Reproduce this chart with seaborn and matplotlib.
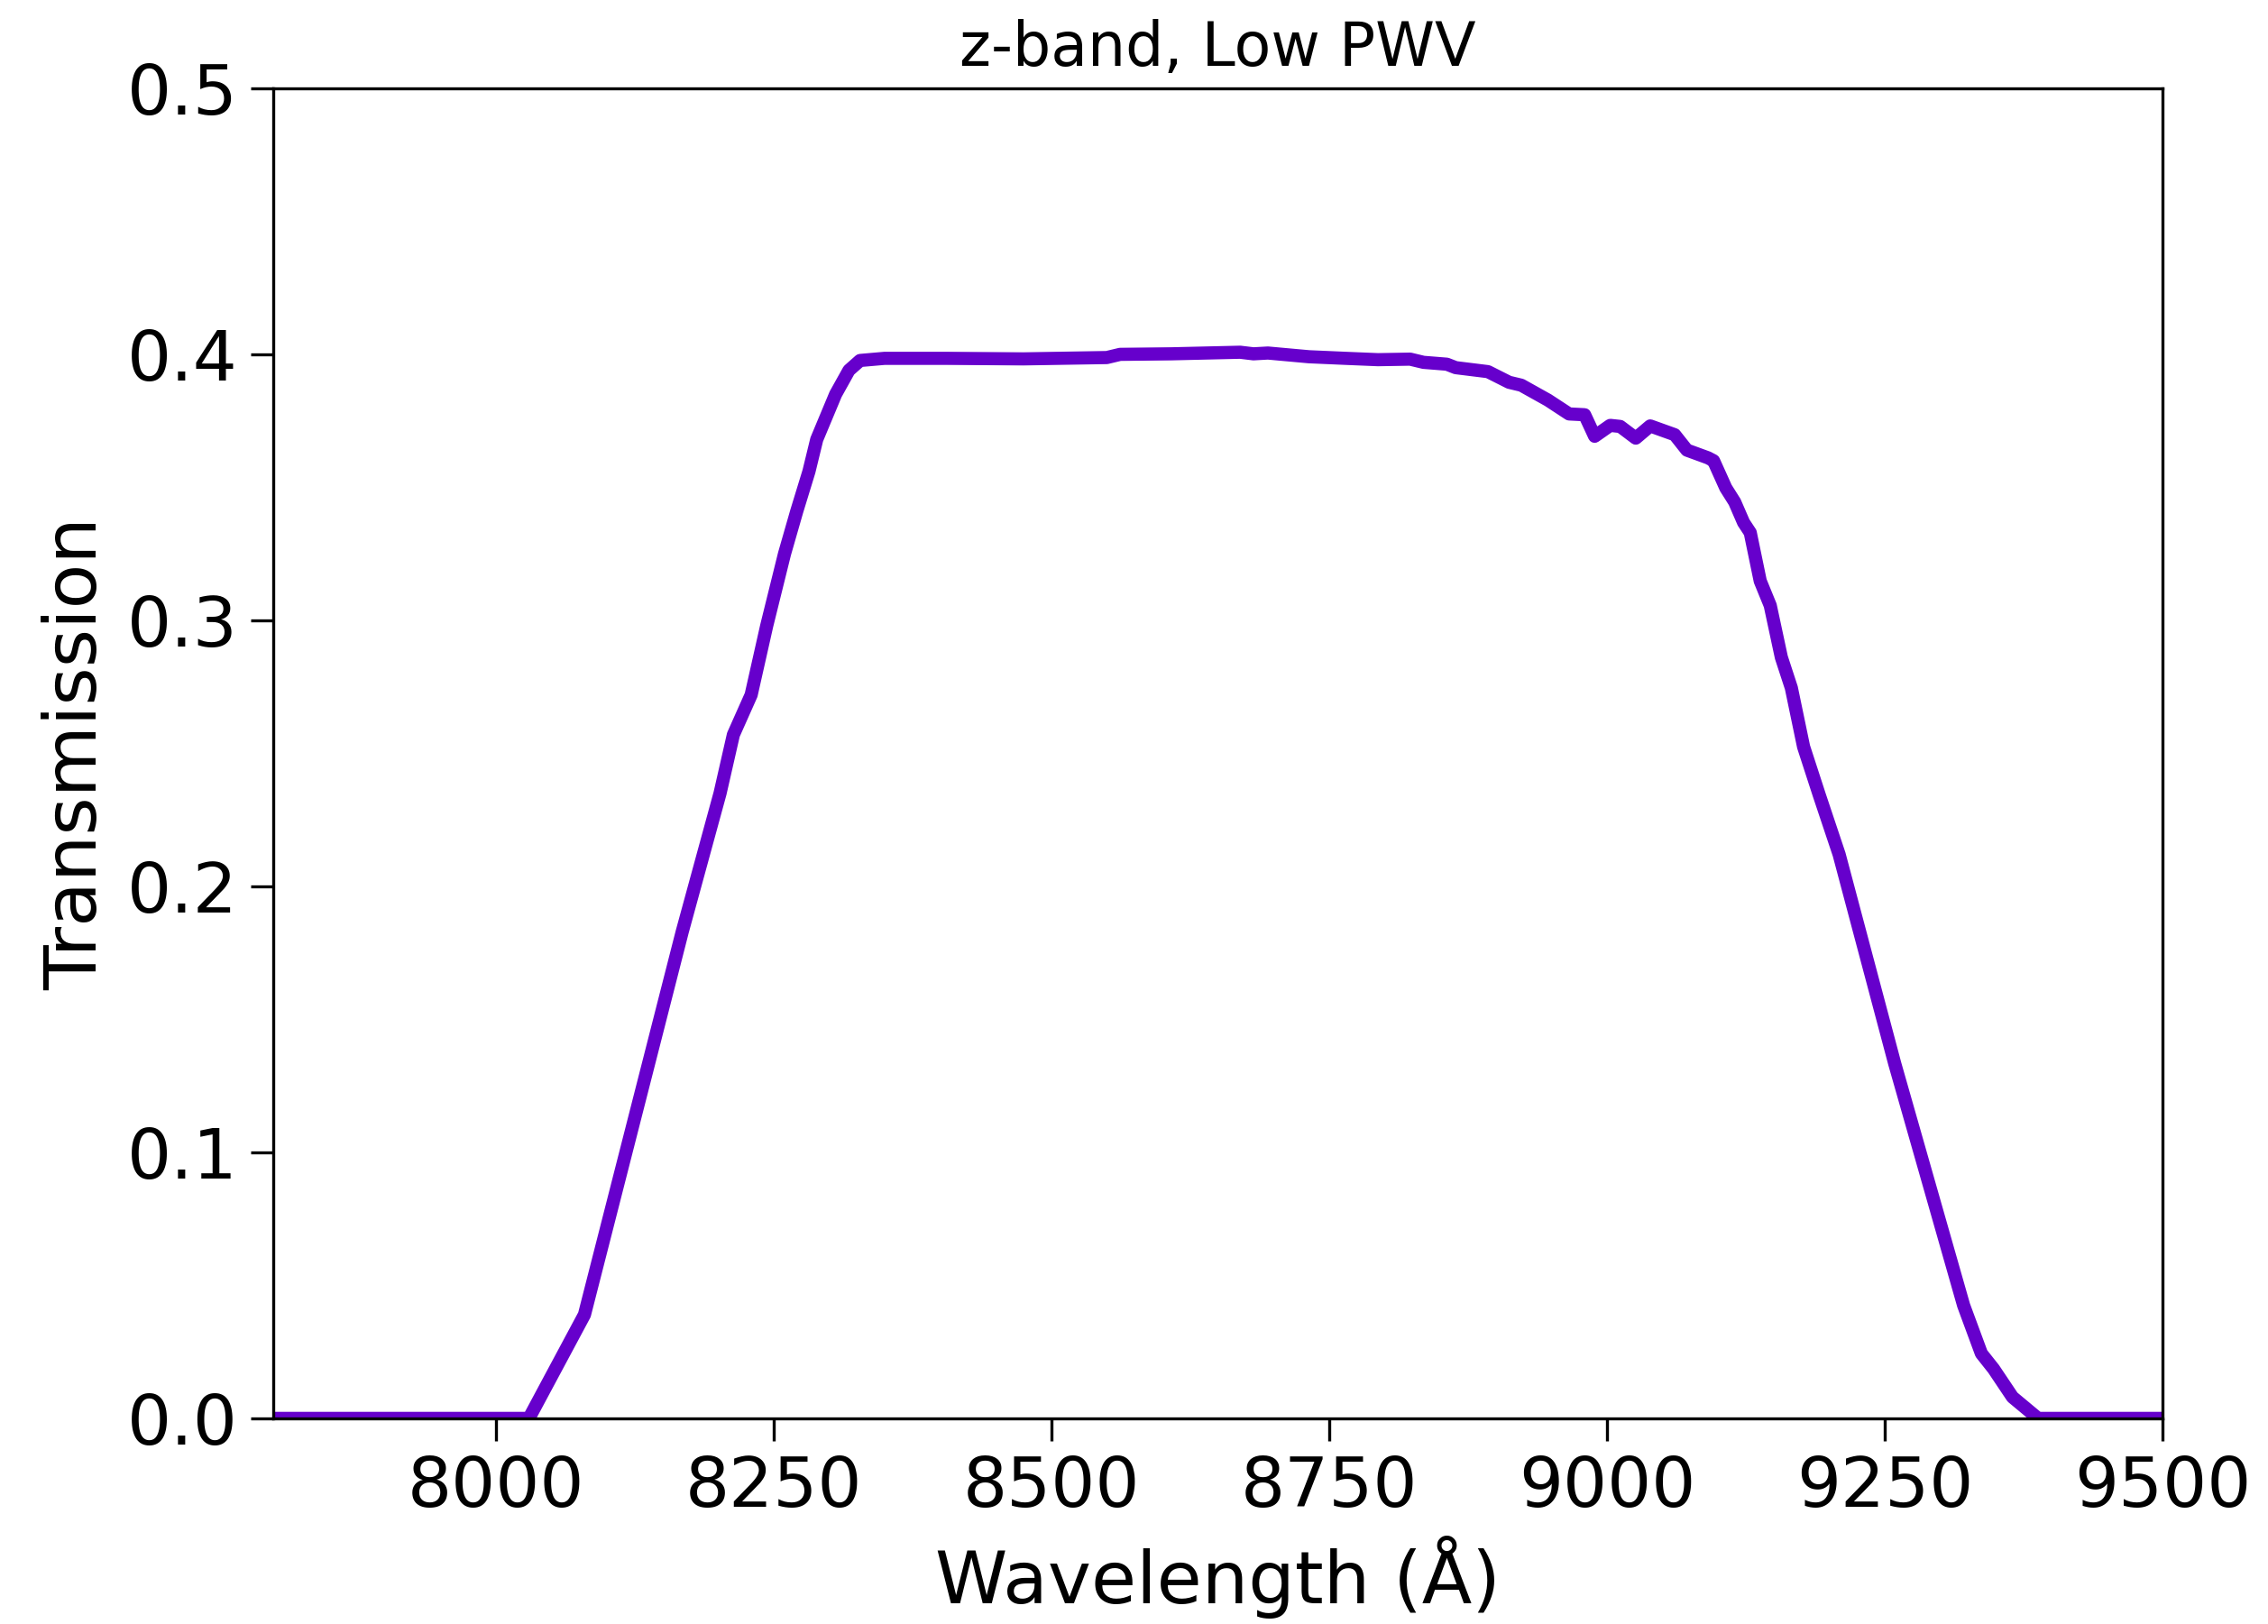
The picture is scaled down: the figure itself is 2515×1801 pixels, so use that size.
import matplotlib
matplotlib.use("Agg")
import matplotlib.pyplot as plt
import seaborn as sns
import pandas as pd

wavelength = [7800, 8030, 8080, 8168, 8202, 8214, 8230, 8244, 8260, 8271, 8282, 8289,
              8306, 8318, 8328, 8350, 8406, 8475, 8550, 8562, 8608, 8670, 8682, 8695,
              8732, 8765, 8794, 8823, 8835, 8856, 8864, 8893, 8912, 8923, 8947, 8966,
              8980, 8989, 9003, 9012, 9026, 9039, 9061, 9072, 9091, 9096, 9107, 9115,
              9123, 9129, 9138, 9147, 9157, 9166, 9177, 9191, 9209, 9259, 9321, 9337,
              9348, 9365, 9388, 9500]
transmission = [0, 0, 0.039, 0.183, 0.235, 0.257, 0.272, 0.298, 0.325, 0.341, 0.356, 0.368,
                0.385, 0.394, 0.3977, 0.3985, 0.3985, 0.3983, 0.3988, 0.4000, 0.4002, 0.4008,
                0.4002, 0.4005, 0.3991, 0.3985, 0.3980, 0.3982, 0.3970, 0.3963, 0.3950, 0.3935,
                0.3895, 0.3884, 0.3828, 0.3776, 0.3773, 0.3692, 0.3733, 0.3729, 0.3685, 0.3731,
                0.3698, 0.3640, 0.3611, 0.3600, 0.3498, 0.3445, 0.3368, 0.3330, 0.3148, 0.3056,
                0.2861, 0.2746, 0.2525, 0.2345, 0.212, 0.1334, 0.0425, 0.0244, 0.0186, 0.008,
                0, 0]
x_ticks = [8000, 8250, 8500, 8750, 9000, 9250, 9500]
y_ticks = [0.0, 0.1, 0.2, 0.3, 0.4, 0.5]

sns.set_style("ticks")
plt.rcParams['font.family'] = ['DejaVu Sans']

df = pd.DataFrame({"wl": wavelength, "tr": transmission})

fig = plt.figure(figsize=(2515 / 300, 1801 / 300), dpi=300)
ax = fig.add_axes([0.1205, 0.1266, 0.833, 0.819])
sns.lineplot(data=df, x="wl", y="tr", ax=ax, color="#6600cc", linewidth=3.5,
             estimator=None, sort=False)
ax.set_xlim(7800, 9500)
ax.set_ylim(0, 0.5)
ax.set_xticks(x_ticks)
ax.set_xticklabels([str(t) for t in x_ticks])
ax.set_yticks(y_ticks)
ax.set_yticklabels([f"{t:.1f}" for t in y_ticks])
ax.tick_params(axis="both", labelsize=18.5, length=6, width=0.8, color="black", labelcolor="black")
for s in ax.spines.values():
    s.set_color("black")
    s.set_linewidth(0.8)
ax.set_xlabel("Wavelength (Å)", fontsize=19.5, color="black")
ax.set_ylabel("Transmission", fontsize=19.5, color="black")
ax.set_title("z-band, Low PWV", fontsize=16, color="black")
fig.savefig("out.png", dpi=300)
